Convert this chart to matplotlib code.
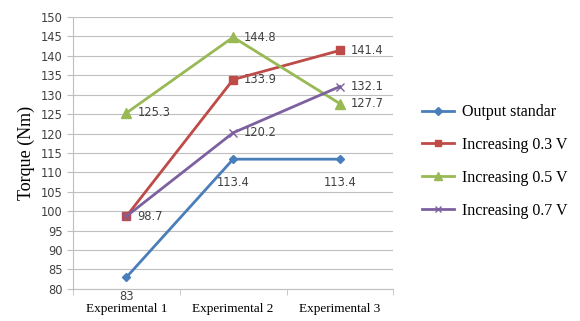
import matplotlib.pyplot as plt
import numpy as np

categories = ["Experimental 1", "Experimental 2", "Experimental 3"]
output_standar = [83, 113.4, 113.4]
inc_03 = [98.7, 133.9, 141.4]
inc_05 = [125.3, 144.8, 127.7]
inc_07 = [98.7, 120.2, 132.1]
series_labels = ["Output standar", "Increasing 0.3 V", "Increasing 0.5 V", "Increasing 0.7 V"]
y_ticks = list(range(80, 151, 5))

fig = plt.figure(figsize=(5.8, 3.21), dpi=100)
ax = fig.add_axes([0.126, 0.10, 0.552, 0.847])

x = np.arange(len(categories))
styles = [
    dict(color="#4A7EBB", marker="D", ms=4.5),
    dict(color="#BE4B48", marker="s", ms=6),
    dict(color="#98B954", marker="^", ms=6.5),
    dict(color="#7D60A0", marker="x", ms=6, mew=1.0),
]
series = [output_standar, inc_03, inc_05, inc_07]
order = [0, 3, 1, 2]
lines = {}
for i in order:
    ln, = ax.plot(x, series[i], lw=2, label=series_labels[i], **styles[i], zorder=3 + i)
    lines[i] = ln

lab_kw = dict(fontsize=8.3, color="#404040", family="DejaVu Sans")
# data labels
for i, vals in enumerate(series):
    for j, v in enumerate(vals):
        if i == 3 and j == 0:
            continue
        if i == 0:
            off = -9 if j == 0 else -12
            ax.annotate(f"{v:g}", (x[j], v), xytext=(0, off), textcoords="offset points",
                        ha="center", va="top", **lab_kw)
        else:
            ax.annotate(f"{v:g}", (x[j], v), xytext=(8, 0), textcoords="offset points",
                        ha="left", va="center", **lab_kw)

ax.set_xlim(-0.5, 2.5)
ax.set_ylim(80, 150)
ax.set_yticks(y_ticks)
ax.set_xticks(x)
ax.set_xticklabels(categories, family="Liberation Serif", fontsize=9.5)
ax.set_xticks([-0.5, 0.5, 1.5, 2.5], minor=True)
ax.tick_params(axis="x", which="major", length=0, pad=10)
ax.tick_params(axis="x", which="minor", length=4, color="#BFBFBF", direction="out")
ax.tick_params(axis="y", length=4, color="#BFBFBF", labelsize=8.3, labelcolor="#404040")
for t in ax.get_yticklabels():
    t.set_family("DejaVu Sans")
ax.grid(axis="y", color="#BFBFBF", lw=0.8)
ax.set_axisbelow(True)
for s in ["top", "right"]:
    ax.spines[s].set_visible(False)
for s in ["left", "bottom"]:
    ax.spines[s].set_color("#BFBFBF")
ax.set_ylabel("Torque (Nm)", family="Liberation Serif", fontsize=13, labelpad=4)

handles = [lines[i] for i in range(4)]
fig.legend(handles, series_labels, loc="upper left", bbox_to_anchor=(0.703, 0.72),
           frameon=False, prop=dict(family="Liberation Serif", size=11.5),
           labelspacing=1.05, handlelength=2.0, handletextpad=0.5, markerscale=0.8)

fig.savefig("out.png", dpi=100)
